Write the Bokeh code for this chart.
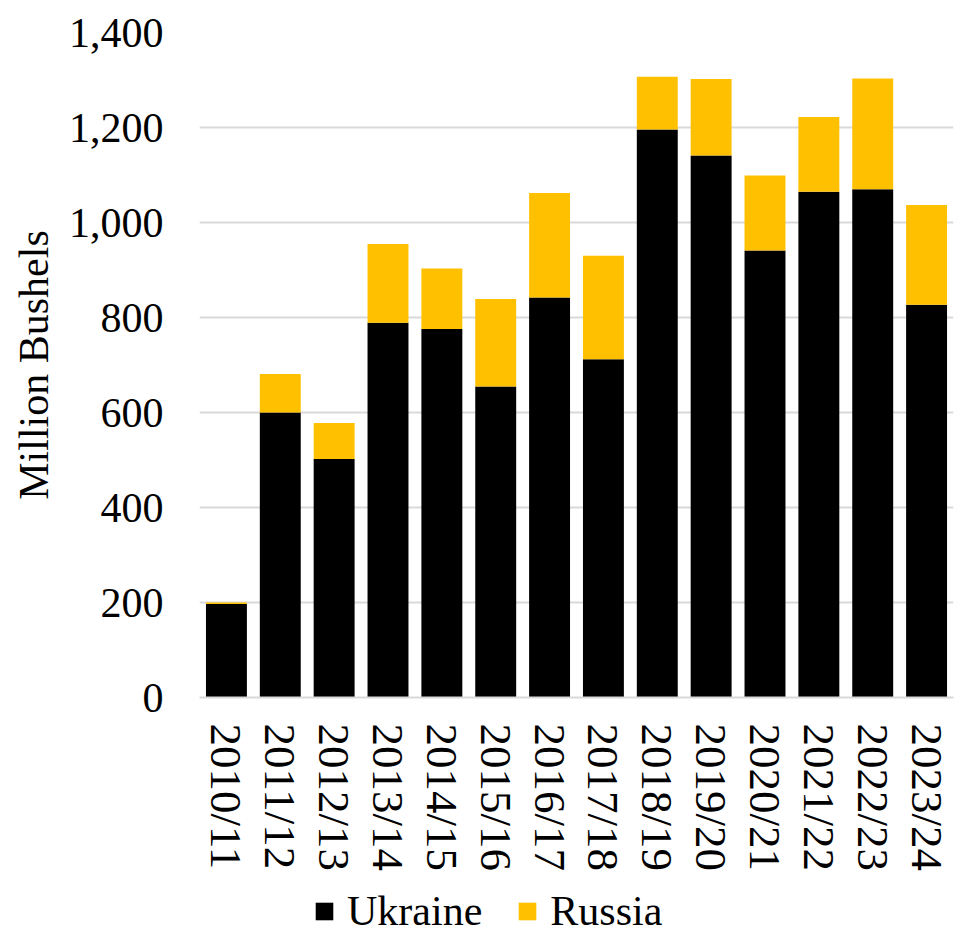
from bokeh.plotting import figure
from bokeh.layouts import column
from bokeh.models import Range1d, FixedTicker, NumeralTickFormatter, Legend, LegendItem
from bokeh.embed import file_html
from bokeh.resources import INLINE

years = ["2010/11", "2011/12", "2012/13", "2013/14", "2014/15", "2015/16", "2016/17",
         "2017/18", "2018/19", "2019/20", "2020/21", "2021/22", "2022/23", "2023/24"]
ukraine = [197, 600, 502, 789, 776, 655, 842, 712, 1196, 1141, 941, 1065, 1070, 827]
russia = [3, 81, 76, 166, 127, 184, 220, 218, 111, 161, 158, 157, 233, 210]
y_ticks = [0, 200, 400, 600, 800, 1000, 1200, 1400]
series = ["Ukraine", "Russia"]
colors = ["#000000", "#FFC000"]

FONT = "Liberation Serif"

p = figure(x_range=years, y_range=Range1d(0, 1400),
           frame_width=754, frame_height=665,
           min_border_left=199, min_border_top=32, min_border_right=8, min_border_bottom=180,
           output_backend="svg", toolbar_location=None)
p.outline_line_color = None

src = dict(years=years, Ukraine=ukraine, Russia=russia)
r = p.vbar_stack(series, x="years", width=0.76, source=src,
                 color=colors, line_color=None)

p.xgrid.grid_line_color = None
p.ygrid.grid_line_color = "#d9d9d9"
p.ygrid.grid_line_width = 2

p.yaxis.ticker = FixedTicker(ticks=y_ticks)
p.yaxis.formatter = NumeralTickFormatter(format="0,0")
p.yaxis.axis_line_color = None
p.yaxis.major_tick_line_color = None
p.yaxis.minor_tick_line_color = None
p.yaxis.major_tick_out = 0
p.yaxis.major_label_standoff = 36
p.yaxis.major_label_text_font = FONT
p.yaxis.major_label_text_font_size = "42px"
p.yaxis.major_label_text_color = "#000000"
p.yaxis.axis_label = "Million Bushels"
p.yaxis.axis_label_text_font = FONT
p.yaxis.axis_label_text_font_size = "42px"
p.yaxis.axis_label_text_font_style = "normal"
p.yaxis.axis_label_text_color = "#000000"
p.yaxis.axis_label_standoff = 9

p.xaxis.axis_line_color = "#d9d9d9"
p.xaxis.axis_line_width = 2
p.xaxis.major_tick_line_color = None
p.xaxis.major_tick_out = 0
p.xaxis.major_label_orientation = "vertical"
p.xaxis.major_label_standoff = 26
p.xaxis.major_label_text_font = FONT
p.xaxis.major_label_text_font_size = "45px"
p.xaxis.major_label_text_color = "#000000"

# legend strip below the chart (hidden copies of the series supply the legend swatches)
p2 = figure(width=961, height=60, x_range=p.x_range, y_range=Range1d(0, 1400),
            x_axis_type=None, y_axis_type=None, min_border=0,
            output_backend="svg", toolbar_location=None)
p2.outline_line_color = None
p2.grid.grid_line_color = None
lr = p2.vbar_stack(series, x="years", width=0.76, source=src, color=colors, line_color=None)
for g in lr:
    g.visible = False

legend = Legend(items=[LegendItem(label=s, renderers=[g]) for s, g in zip(series, lr)],
                orientation="horizontal", location=(114, 2),
                glyph_width=22, glyph_height=22, label_standoff=12, spacing=34,
                padding=0, margin=0, border_line_color=None, background_fill_alpha=0,
                inactive_fill_alpha=0,
                label_text_font=FONT, label_text_font_size="42px", label_text_color="#000000")
p2.add_layout(legend, "center")

open("out.html", "w").write(file_html(column(p, p2, spacing=0), INLINE))
